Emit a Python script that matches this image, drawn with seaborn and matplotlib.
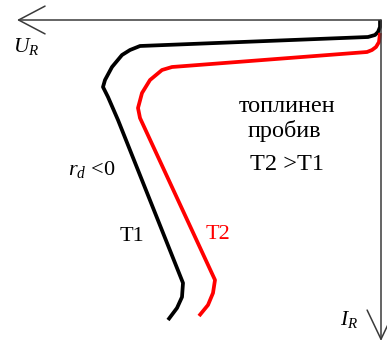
import matplotlib
matplotlib.use("Agg")
import matplotlib.pyplot as plt
import seaborn as sns
import pandas as pd

# Reverse characteristic with thermal breakdown, two temperatures.
# U_R grows to the left, I_R grows downward (arbitrary units).
t1_u = [1, 1, 3, 6, 13, 241, 251, 259, 269, 276, 278, 273, 263, 198, 199, 204, 213]
t1_i = [0, 7, 12, 15, 17, 26, 30, 35, 47, 60, 67, 77, 100, 263, 277, 288, 300]

t2_u = [1, 2, 5, 9, 14, 209, 219, 231, 239, 243, 241, 166, 168, 173, 182]
t2_i = [13, 22, 27, 30, 32, 47, 50, 60, 73, 88, 98, 260, 273, 285, 296]

series_labels = ["T1", "T2"]
series_colors = ["#000000", "#ff0000"]

sns.set_style("white")
plt.rcParams["font.family"] = ["Liberation Serif", "DejaVu Serif"]
plt.rcParams["text.color"] = "black"
plt.rcParams["mathtext.fontset"] = "custom"
plt.rcParams["mathtext.rm"] = "Liberation Serif"
plt.rcParams["mathtext.it"] = "Liberation Serif:italic"

fig = plt.figure(figsize=(3.87, 3.41), dpi=100)
ax = fig.add_axes([0, 0, 1, 1])

df = pd.concat([
    pd.DataFrame({"U": t1_u, "I": t1_i, "T": series_labels[0]}),
    pd.DataFrame({"U": t2_u, "I": t2_i, "T": series_labels[1]}),
])

sns.lineplot(data=df, x="U", y="I", hue="T", palette=series_colors, sort=False,
             estimator=None, units="T", lw=2.7, legend=False, ax=ax,
             solid_capstyle="butt", solid_joinstyle="round")

ax.set_xlim(381, -6)
ax.set_ylim(321, -20)
ax.axis("off")

axis_color = "#3a3a3a"
# U_R axis (pointing left) and I_R axis (pointing down)
ax.annotate("", xy=(364, 0), xytext=(0, 0),
            arrowprops=dict(arrowstyle="->,head_length=19,head_width=10",
                            mutation_scale=1, color=axis_color, lw=1.1,
                            shrinkA=0, shrinkB=0))
ax.annotate("", xy=(0, 321), xytext=(0, 0),
            arrowprops=dict(arrowstyle="->,head_length=21,head_width=10",
                            mutation_scale=1, color=axis_color, lw=1.1,
                            shrinkA=0, shrinkB=0))

ax.text(368, 32, r"$U_R$", fontsize=15.5, ha="left", va="baseline", color="black")
ax.text(41, 305, r"$I_R$", fontsize=15.5, ha="left", va="baseline", color="black")

ax.text(94, 92, "топлинен", fontsize=17.5, ha="center", va="baseline", color="black")
ax.text(97, 117, "пробив", fontsize=17.5, ha="center", va="baseline", color="black")
ax.text(94, 150, "T2 >T1", fontsize=17.5, ha="center", va="baseline", color="black")

ax.text(313, 155, r"$r_d$ <0", fontsize=16, ha="left", va="baseline", color="black")
ax.text(249, 221, series_labels[0], fontsize=16, ha="center", va="baseline",
        color=series_colors[0])
ax.text(163, 219, series_labels[1], fontsize=16, ha="center", va="baseline",
        color=series_colors[1])

fig.savefig("out.png", dpi=100)
